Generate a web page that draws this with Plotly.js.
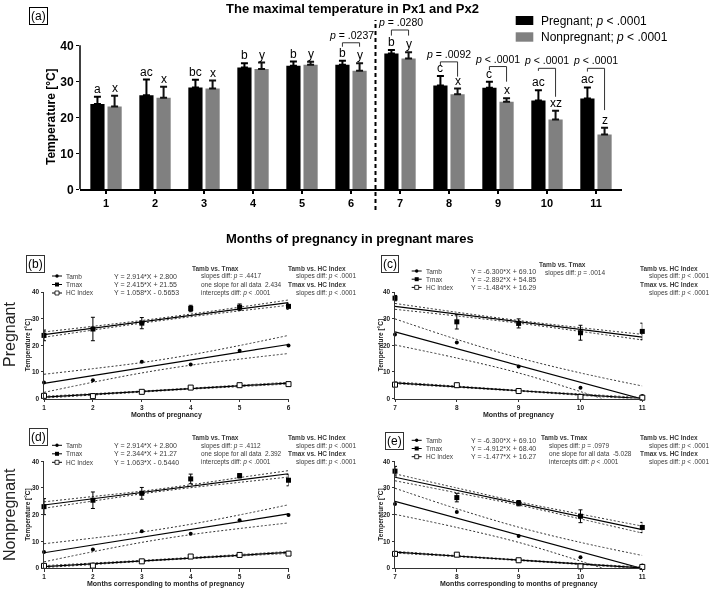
<!DOCTYPE html>
<html><head><meta charset="utf-8">
<script src="https://cdn.plot.ly/plotly-3.0.1.min.js"></script>
<style>html,body{margin:0;padding:0;background:#fff;}#chart{width:709px;height:589px;}
#chart svg{will-change:transform;}
#chart text{-webkit-font-smoothing:antialiased;}</style>
</head><body><div id="chart"></div>
<script>
// ---------- panel (a): maximal temperature, bars ----------
const months = [1, 2, 3, 4, 5, 6, 7, 8, 9, 10, 11];
const pregMean = [23.7, 26.1, 28.3, 33.8, 34.3, 34.6, 37.7, 28.8, 28.2, 24.7, 25.2];
const pregErr  = [2.0, 4.4, 2.1, 1.2, 1.2, 1.1, 1.0, 2.7, 1.7, 2.8, 3.1];
const nonMean  = [23.0, 25.4, 28.0, 33.4, 34.6, 32.9, 36.3, 26.4, 24.3, 19.4, 15.2];
const nonErr   = [3.0, 3.1, 2.2, 1.8, 0.8, 2.1, 1.8, 1.6, 1.0, 2.4, 1.9];
const noLowerErr = [0, 0, 0, 0, 0, 0, 0, 0, 0, 0, 0];
const pregLetters = ['a', 'ac', 'bc', 'b', 'b', 'b', 'b', 'c', 'c', 'ac', 'ac'];
const nonLetters  = ['x', 'x', 'x', 'y', 'y', 'y', 'y', 'x', 'x', 'xz', 'z'];
const pairMonths = [6, 7, 8, 9, 10, 11];
const pairLabels = ['<i>p</i> = .0237', '<i>p</i> = .0280', '<i>p</i> = .0092',
                    '<i>p</i> &lt; .0001', '<i>p</i> &lt; .0001', '<i>p</i> &lt; .0001'];
const legendLabels = ['Pregnant; <i>p</i> &lt; .0001', 'Nonpregnant; <i>p</i> &lt; .0001'];

// ---------- panels (b)-(e): regressions ----------
const monthsEarly = [1, 2, 3, 4, 5, 6];
const monthsLate  = [7, 8, 9, 10, 11];
const tambEarly = [6.0, 6.9, 13.8, 12.8, 17.9, 19.9];
const tambLate  = [24.0, 21.0, 12.0, 4.0, 0.9];
const hcPregEarly = [1.0, 0.9, 2.5, 4.1, 5.0, 5.4];
const hcPregLate  = [5.2, 5.0, 2.8, 0.6, 0.3];
const hcNonEarly  = [0.8, 0.9, 2.5, 4.3, 4.9, 5.4];
const hcNonLate   = [5.3, 5.0, 2.9, 0.6, 0.4];
const seriesNames = ['Tamb', 'Tmax', 'HC Index'];

const slopesB = [2.914, 2.415, 1.058];   const interceptsB = [2.800, 21.55, -0.5653];
const slopesC = [-6.300, -2.892, -1.484]; const interceptsC = [69.10, 54.85, 16.29];
const slopesD = [2.914, 2.344, 1.063];   const interceptsD = [2.800, 21.27, -0.5440];
const slopesE = [-6.300, -4.912, -1.477]; const interceptsE = [69.10, 68.40, 16.27];
const eqB = ['Y = 2.914*X + 2.800', 'Y = 2.415*X + 21.55', 'Y = 1.058*X - 0.5653'];
const eqC = ['Y = -6.300*X + 69.10', 'Y = -2.892*X + 54.85', 'Y = -1.484*X + 16.29'];
const eqD = ['Y = 2.914*X + 2.800', 'Y = 2.344*X + 21.27', 'Y = 1.063*X - 0.5440'];
const eqE = ['Y = -6.300*X + 69.10', 'Y = -4.912*X + 68.40', 'Y = -1.477*X + 16.27'];

// 95% confidence bands
const bandTambEarlyHi = [9.1, 11.2, 13.5, 16.4, 19.9, 23.7];
const bandTambEarlyLo = [2.3, 6.1, 9.6, 12.5, 14.8, 16.9];
const bandTambLateHi  = [29.9, 22.2, 15.3, 9.6, 4.7];
const bandTambLateLo  = [20.1, 15.2, 9.6, 2.6, -5.1];
const bandTmaxBHi = [25.0, 27.1, 29.3, 31.7, 34.3, 37.0];
const bandTmaxBLo = [23.0, 25.7, 28.3, 30.7, 32.9, 35.0];
const bandTmaxDHi = [24.8, 26.8, 28.8, 31.2, 33.9, 36.5];
const bandTmaxDLo = [22.4, 25.1, 27.8, 30.1, 32.1, 34.1];
const bandTmaxCHi = [35.7, 32.4, 29.3, 26.6, 24.1];
const bandTmaxCLo = [33.5, 31.0, 28.3, 25.2, 22.0];
const bandTmaxEHi = [35.3, 30.0, 24.8, 20.2, 15.7];
const bandTmaxELo = [32.7, 28.2, 23.6, 18.4, 13.1];
const bandHcBHi = [0.85, 1.8, 2.8, 3.9, 5.0, 6.1];
const bandHcBLo = [0.15, 1.3, 2.4, 3.5, 4.45, 5.45];
const bandHcDHi = [0.9, 1.85, 2.85, 3.95, 5.05, 6.2];
const bandHcDLo = [0.15, 1.3, 2.45, 3.5, 4.5, 5.45];
const bandHcCHi = [6.25, 4.65, 3.1, 1.7, 0.35];
const bandHcCLo = [5.55, 4.2, 2.75, 1.2, -0.4];
const bandHcEHi = [6.25, 4.65, 3.15, 1.7, 0.35];
const bandHcELo = [5.6, 4.25, 2.8, 1.3, -0.35];

const statsB = ['<b>Tamb vs. Tmax</b>', 'slopes diff: <i>p</i> = .4417', 'one slope for all data  2.434', 'intercepts diff: <i>p</i> &lt; .0001'];
const statsC = ['<b>Tamb vs. Tmax</b>', 'slopes diff: <i>p</i> = .0014'];
const statsD = ['<b>Tamb vs. Tmax</b>', 'slopes diff: <i>p</i> = .4112', 'one slope for all data  2.392', 'intercepts diff: <i>p</i> &lt; .0001'];
const statsE = ['<b>Tamb vs. Tmax</b>', 'slopes diff: <i>p</i> = .0979', 'one slope for all data  -5.028', 'intercepts diff: <i>p</i> &lt; .0001'];
const statsHc = ['<b>Tamb vs. HC Index</b>', 'slopes diff: <i>p</i> &lt; .0001', '<b>Tmax vs. HC Index</b>', 'slopes diff: <i>p</i> &lt; .0001'];

// ---------- helpers ----------
const W = 709, H = 589;
const fx = p => p / W;
const fy = p => 1 - p / H;
const FONT = 'Arial, "Liberation Sans", sans-serif';
const SMALL = '#3a3a3a';
const traces = [], annotations = [], shapes = [];

function txt(text, xp, yp, opts) {
  annotations.push(Object.assign({
    text: text, x: fx(xp), y: fy(yp), xref: 'paper', yref: 'paper', showarrow: false,
    xanchor: 'left', yanchor: 'middle', borderpad: 0,
    font: {family: FONT, size: 6.5, color: SMALL}
  }, opts || {}));
}

// ---------- panel (a) ----------
const barW = 0.29, barOff = 0.175;
traces.push({type: 'bar', x: months, y: pregMean, width: barW, offset: -barOff - barW / 2,
  marker: {color: '#000000'}, xaxis: 'x', yaxis: 'y', hoverinfo: 'skip',
  error_y: {type: 'data', symmetric: false, array: pregErr, arrayminus: noLowerErr, color: '#000', thickness: 2, width: 3.5}});
traces.push({type: 'bar', x: months, y: nonMean, width: barW, offset: barOff - barW / 2,
  marker: {color: '#808080'}, xaxis: 'x', yaxis: 'y', hoverinfo: 'skip',
  error_y: {type: 'data', symmetric: false, array: nonErr, arrayminus: noLowerErr, color: '#111', thickness: 2, width: 3.5}});

months.forEach((m, i) => {
  annotations.push({xref: 'x', yref: 'y', x: m - barOff, y: pregMean[i] + pregErr[i], text: pregLetters[i],
    showarrow: false, xanchor: 'center', yanchor: 'bottom', borderpad: 0, font: {family: FONT, size: 12, color: '#000'}});
  annotations.push({xref: 'x', yref: 'y', x: m + barOff, y: nonMean[i] + nonErr[i], text: nonLetters[i],
    showarrow: false, xanchor: 'center', yanchor: 'bottom', borderpad: 0, font: {family: FONT, size: 12, color: '#000'}});
});

// comparison brackets (annotation positions)
const bracketTop   = [40.7, 44.25, 35.4, 34.1, 33.6, 33.6];
const bracketLeft  = [39.6, 42.7, 34.5, 33.1, 32.9, 32.7];
const bracketRight = [39.6, 42.7, 31.3, 29.9, 25.7, 22.0];
pairMonths.forEach((m, j) => {
  const xl = m - barOff, xr = m + barOff;
  shapes.push({type: 'path', xref: 'x', yref: 'y',
    path: 'M' + xl + ',' + bracketLeft[j] + 'L' + xl + ',' + bracketTop[j] + 'L' + xr + ',' + bracketTop[j] + 'L' + xr + ',' + bracketRight[j],
    line: {color: '#333', width: 1}});
  annotations.push({xref: 'x', yref: 'y', x: m, y: bracketTop[j], text: pairLabels[j], showarrow: false,
    xanchor: 'center', yanchor: 'bottom', borderpad: 0, yshift: 1, font: {family: FONT, size: 10.5, color: '#000'}});
});

// y axis line (0-40 only) and dashed separator
shapes.push({type: 'line', xref: 'paper', yref: 'y', x0: fx(80), x1: fx(80), y0: 0, y1: 40, line: {color: '#000', width: 1.5}});
shapes.push({type: 'line', xref: 'x', yref: 'paper', x0: 6.5, x1: 6.5, y0: fy(210), y1: fy(20), line: {color: '#000', width: 2, dash: '4px,3px'}});

// legend (a)
shapes.push({type: 'rect', xref: 'paper', yref: 'paper', x0: fx(515.7), x1: fx(533.3), y0: fy(25), y1: fy(16), fillcolor: '#000', line: {width: 0}});
shapes.push({type: 'rect', xref: 'paper', yref: 'paper', x0: fx(515.7), x1: fx(533.3), y0: fy(41.7), y1: fy(32.3), fillcolor: '#808080', line: {width: 0}});
txt(legendLabels[0], 540, 20.7, {font: {family: FONT, size: 12, color: '#000'}});
txt(legendLabels[1], 540, 37, {font: {family: FONT, size: 12, color: '#000'}});

txt('The maximal temperature in Px1 and Px2', 352, 8, {xanchor: 'center', font: {family: FONT, size: 13, color: '#000', weight: 'bold'}});
txt('(a)', 38.3, 16.3, {xanchor: 'center', borderpad: 1, bordercolor: '#000', borderwidth: 1, font: {family: FONT, size: 12, color: '#000'}});
txt('Temperature [°C]', 51, 117, {xanchor: 'center', textangle: -90, font: {family: FONT, size: 12, color: '#000', weight: 'bold'}});
txt('Months of pregnancy in pregnant mares', 350, 238, {xanchor: 'center', font: {family: FONT, size: 13, color: '#000', weight: 'bold'}});
txt('Pregnant', 9, 335, {xanchor: 'center', textangle: -90, font: {family: FONT, size: 16, color: '#222'}});
txt('Nonpregnant', 9, 515, {xanchor: 'center', textangle: -90, font: {family: FONT, size: 16, color: '#222'}});

// ---------- regression panels ----------
function buildPanel(g) {
  for (let k = 0; k < 3; k++) {
    [g.hi[k], g.lo[k]].forEach(b => traces.push({type: 'scatter', mode: 'lines', x: g.xs, y: b,
      line: {color: '#333', width: 1, dash: '2px,2px', shape: 'spline'}, xaxis: g.xa, yaxis: g.ya, hoverinfo: 'skip'}));
    const x0 = g.xs[0], x1 = g.xs[g.xs.length - 1];
    traces.push({type: 'scatter', mode: 'lines', x: [x0, x1],
      y: [g.slopes[k] * x0 + g.intercepts[k], g.slopes[k] * x1 + g.intercepts[k]],
      line: {color: '#000', width: 1.2}, xaxis: g.xa, yaxis: g.ya, hoverinfo: 'skip'});
  }
  traces.push({type: 'scatter', mode: 'markers', x: g.xs, y: g.tmax, xaxis: g.xa, yaxis: g.ya, cliponaxis: false, hoverinfo: 'skip',
    marker: {symbol: 'square', size: 5, color: '#000'},
    error_y: {type: 'data', array: g.tmaxErr, color: '#000', thickness: 1, width: 2}});
  traces.push({type: 'scatter', mode: 'markers', x: g.xs, y: g.tamb, xaxis: g.xa, yaxis: g.ya, cliponaxis: false, hoverinfo: 'skip',
    marker: {symbol: 'circle', size: 4, color: '#000'}});
  traces.push({type: 'scatter', mode: 'markers', x: g.xs, y: g.hc, xaxis: g.xa, yaxis: g.ya, cliponaxis: false, hoverinfo: 'skip',
    marker: {symbol: 'square', size: 5, color: '#fff', line: {color: '#000', width: 1}}});

  g.legRows.forEach((ry, k) => {
    const y = g.y40 + ry, cx = g.symX;
    shapes.push({type: 'line', xref: 'paper', yref: 'paper', x0: fx(cx - 5), x1: fx(cx + 5), y0: fy(y), y1: fy(y), line: {color: '#000', width: 1}});
    const r = k === 0 ? 1.7 : 2;
    shapes.push({type: k === 0 ? 'circle' : 'rect', xref: 'paper', yref: 'paper', x0: fx(cx - r), x1: fx(cx + r), y0: fy(y + r), y1: fy(y - r),
      fillcolor: k === 2 ? '#fff' : '#000', line: {color: '#000', width: k === 2 ? 0.8 : 0}});
    txt(seriesNames[k], g.legTextX, y, {font: {family: FONT, size: 6.5, color: SMALL}});
    txt(g.eq[k], g.eqX, y, {font: {family: FONT, size: 7, color: SMALL}});
  });
  g.stats.forEach((s, k) => {
    txt(s, s.indexOf('<b>') === 0 ? g.statX[0] : g.statX[1], g.y40 + g.statRows[k], {font: {family: FONT, size: 6.5, color: SMALL}});
  });
  statsHc.forEach((s, k) => {
    txt(s, k % 2 === 0 ? g.hcX[0] : g.hcX[1], g.y40 + g.hcRows[k], {font: {family: FONT, size: 6.5, color: SMALL}});
  });
  txt(g.label, g.box[0], g.box[1], {xanchor: 'center', borderpad: 1, bordercolor: '#333', borderwidth: 1, font: {family: FONT, size: 12, color: '#000'}});
  txt('Temperature [°C]', g.ytX, (g.y0 + g.y40) / 2, {xanchor: 'center', textangle: -90, font: {family: FONT, size: 6.5, color: '#222', weight: 'bold'}});
  txt(g.xTitle, (g.xPx[0] + g.xPx[1]) / 2, g.y0 + 16, {xanchor: 'center', font: {family: FONT, size: 7, color: '#222', weight: 'bold'}});
}

const yTop = [398.5, 292], yBot = [568, 461.3];
const xLeft = [44, 288.5], xRight = [395, 642.3];
const leftLeg = [-16, -7.5, 1], rightLeg = [-21, -12.8, -4.6];
const stdRows = [-23.5, -15.5, -7.5, 0.5];

buildPanel({xa: 'x2', ya: 'y2', xs: monthsEarly, tamb: tambEarly, tmax: pregMean.slice(0, 6), tmaxErr: pregErr.slice(0, 6), hc: hcPregEarly,
  slopes: slopesB, intercepts: interceptsB, hi: [bandTambEarlyHi, bandTmaxBHi, bandHcBHi], lo: [bandTambEarlyLo, bandTmaxBLo, bandHcBLo],
  y0: yTop[0], y40: yTop[1], xPx: xLeft, legRows: leftLeg, symX: 57, legTextX: 65, eqX: 113, eq: eqB,
  stats: statsB, statX: [190.7, 200], statRows: stdRows, hcX: [287.3, 295], hcRows: stdRows,
  label: '(b)', box: [35, 264], ytX: 28, xTitle: 'Months of pregnancy'});
buildPanel({xa: 'x3', ya: 'y3', xs: monthsLate, tamb: tambLate, tmax: pregMean.slice(6), tmaxErr: pregErr.slice(6), hc: hcPregLate,
  slopes: slopesC, intercepts: interceptsC, hi: [bandTambLateHi, bandTmaxCHi, bandHcCHi], lo: [bandTambLateLo, bandTmaxCLo, bandHcCLo],
  y0: yTop[0], y40: yTop[1], xPx: xRight, legRows: rightLeg, symX: 416.7, legTextX: 425, eqX: 470, eq: eqC,
  stats: statsC, statX: [538.3, 544], statRows: [-28, -19.5], hcX: [639, 647.7], hcRows: stdRows,
  label: '(c)', box: [390, 264], ytX: 381, xTitle: 'Months of pregnancy'});
buildPanel({xa: 'x4', ya: 'y4', xs: monthsEarly, tamb: tambEarly, tmax: nonMean.slice(0, 6), tmaxErr: nonErr.slice(0, 6), hc: hcNonEarly,
  slopes: slopesD, intercepts: interceptsD, hi: [bandTambEarlyHi, bandTmaxDHi, bandHcDHi], lo: [bandTambEarlyLo, bandTmaxDLo, bandHcDLo],
  y0: yBot[0], y40: yBot[1], xPx: xLeft, legRows: leftLeg, symX: 57, legTextX: 65, eqX: 113, eq: eqD,
  stats: statsD, statX: [190.7, 200], statRows: stdRows, hcX: [287.3, 295], hcRows: stdRows,
  label: '(d)', box: [38.7, 436.7], ytX: 28, xTitle: 'Months corresponding to months of pregnancy'});
buildPanel({xa: 'x5', ya: 'y5', xs: monthsLate, tamb: tambLate, tmax: nonMean.slice(6), tmaxErr: nonErr.slice(6), hc: hcNonLate,
  slopes: slopesE, intercepts: interceptsE, hi: [bandTambLateHi, bandTmaxEHi, bandHcEHi], lo: [bandTambLateLo, bandTmaxELo, bandHcELo],
  y0: yBot[0], y40: yBot[1], xPx: xRight, legRows: rightLeg, symX: 416.7, legTextX: 425, eqX: 470, eq: eqE,
  stats: statsE, statX: [540, 547.7], statRows: stdRows, hcX: [639, 647.7], hcRows: stdRows,
  label: '(e)', box: [394.7, 440.7], ytX: 381, xTitle: 'Months corresponding to months of pregnancy'});

// ---------- axes ----------
function pxAxis(dom, range, tickvals, anchor) {
  return {domain: [fx(dom[0]), fx(dom[1])], range: range, tickvals: tickvals, ticks: 'outside', ticklen: 2.5, tickwidth: 1,
    tickcolor: '#333', showline: true, linecolor: '#333', linewidth: 1, showgrid: false, zeroline: false, anchor: anchor,
    fixedrange: true, tickfont: {family: FONT, size: 6.5, color: '#222', weight: 'bold'}};
}
function pyAxis(dom, anchor) {
  return {domain: [fy(dom[0]), fy(dom[1])], range: [0, 40], tickvals: [0, 10, 20, 30, 40], ticks: 'outside', ticklen: 2.5, tickwidth: 1,
    tickcolor: '#333', showline: true, linecolor: '#333', linewidth: 1, showgrid: false, zeroline: false, anchor: anchor,
    fixedrange: true, tickfont: {family: FONT, size: 6.5, color: '#222', weight: 'bold'}};
}

const layout = {
  width: W, height: H, margin: {l: 0, r: 0, t: 0, b: 0}, paper_bgcolor: '#fff', plot_bgcolor: 'rgba(0,0,0,0)',
  showlegend: false, barmode: 'overlay', font: {family: FONT},
  xaxis: {domain: [fx(80), fx(622)], range: [0.469, 11.531], tickvals: months, ticks: 'outside', ticklen: 3, tickwidth: 1.5,
    tickcolor: '#000', showline: true, linecolor: '#000', linewidth: 1.5, showgrid: false, zeroline: false, anchor: 'y',
    fixedrange: true, tickfont: {family: FONT, size: 11, color: '#000', weight: 'bold'}},
  yaxis: {domain: [fy(189.3), fy(23.7)], range: [0, 46], tickvals: [0, 10, 20, 30, 40], ticks: 'outside', ticklen: 3, tickwidth: 1.5,
    tickcolor: '#000', showline: false, showgrid: false, zeroline: false, anchor: 'x', fixedrange: true,
    tickfont: {family: FONT, size: 12, color: '#000', weight: 'bold'}},
  xaxis2: pxAxis(xLeft, [1, 6], monthsEarly, 'y2'), yaxis2: pyAxis(yTop, 'x2'),
  xaxis3: pxAxis(xRight, [7, 11], monthsLate, 'y3'), yaxis3: pyAxis(yTop, 'x3'),
  xaxis4: pxAxis(xLeft, [1, 6], monthsEarly, 'y4'), yaxis4: pyAxis(yBot, 'x4'),
  xaxis5: pxAxis(xRight, [7, 11], monthsLate, 'y5'), yaxis5: pyAxis(yBot, 'x5'),
  annotations: annotations, shapes: shapes
};

Plotly.newPlot('chart', traces, layout, {staticPlot: true, displayModeBar: false});
</script></body></html>
